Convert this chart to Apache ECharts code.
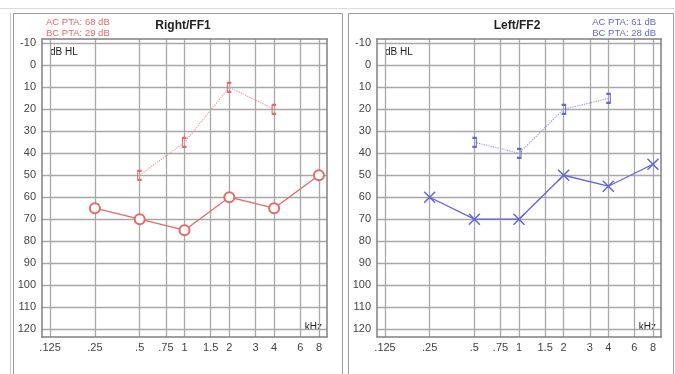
<!DOCTYPE html>
<html>
<head>
<meta charset="utf-8">
<script src="https://cdn.jsdelivr.net/npm/echarts@6/dist/echarts.min.js"></script>
<style>
  html, body { margin: 0; padding: 0; background: #fff; }
  #chart { width: 675px; height: 374px; }
</style>
</head>
<body>
<div id="chart"></div>
<script>
// audiogram data (kHz / dB HL)
const acFreqs = [0.25, 0.5, 1, 2, 4, 8];
const bcFreqs = [0.5, 1, 2, 4];
const rightAC = [65, 70, 75, 60, 65, 50];
const rightBC = [50, 35, 10, 20];
const leftAC = [60, 70, 70, 50, 55, 45];
const leftBC = [35, 40, 20, 15];
const tickFreqs = [0.125, 0.25, 0.5, 0.75, 1, 1.5, 2, 3, 4, 6, 8];
const tickLabels = ['.125', '.25', '.5', '.75', '1', '1.5', '2', '3', '4', '6', '8'];
const dbTicks = [-10, 0, 10, 20, 30, 40, 50, 60, 70, 80, 90, 100, 110, 120];

const RED = '#e36a6a';
const BLUE = '#6464da';
const FONT = '"Liberation Sans", Arial, sans-serif';

const toXY = (fs, vals) => fs.map((f, i) => [Math.log2(f), vals[i]]);
const xTickVals = tickFreqs.map(f => Math.log2(f));

function xAxisFor(idx) {
    return {
        gridIndex: idx,
        type: 'value',
        min: -3.18,
        max: 3.18,
        axisLine: { show: true, onZero: false, lineStyle: { color: '#808080', width: 1.5 } },
        axisTick: { show: false, customValues: xTickVals },
        axisLabel: {
            customValues: xTickVals,
            margin: 5,
            fontSize: 11,
            color: '#444',
            fontFamily: FONT,
            formatter: v => {
                const k = xTickVals.findIndex(t => Math.abs(t - v) < 1e-6);
                return k >= 0 ? tickLabels[k] : '';
            }
        },
        splitLine: { show: true, lineStyle: { color: '#a8a8a8', width: 1.3 } }
    };
}
function yAxisFor(idx) {
    return {
        gridIndex: idx,
        type: 'value',
        inverse: true,
        min: -12,
        max: 123.6,
        axisLine: { show: true, onZero: false, lineStyle: { color: '#808080', width: 1.5 } },
        axisTick: { show: false, customValues: dbTicks },
        axisLabel: { customValues: dbTicks, margin: 6, fontSize: 11, color: '#444', fontFamily: FONT },
        splitLine: { show: true, lineStyle: { color: '#a8a8a8', width: 1.3 } }
    };
}
// extra axes on the far side to close the box
function boxAxes(idx) {
    return [
        { gridIndex: idx, type: 'value', position: 'top', min: 0, max: 1,
          axisLine: { show: true, onZero: false, lineStyle: { color: '#808080', width: 1.5 } },
          axisTick: { show: false }, axisLabel: { show: false }, splitLine: { show: false } },
        { gridIndex: idx, type: 'value', position: 'right', min: 0, max: 1,
          axisLine: { show: true, onZero: false, lineStyle: { color: '#808080', width: 1.5 } },
          axisTick: { show: false }, axisLabel: { show: false }, splitLine: { show: false } }
    ];
}

const bracketL = 'path://M6,0L0,0L0,14L6,14';
const bracketR = 'path://M0,0L6,0L6,14L0,14';
const cross = 'path://M0,0L10,10M10,0L0,10';

const chart = echarts.init(document.getElementById('chart'));
const rb = boxAxes(0), lb = boxAxes(1);
const option = {
    backgroundColor: '#fff',
    animation: false,
    grid: [
        { left: 42, top: 39, width: 285, height: 298 },
        { left: 377, top: 39, width: 284, height: 298 }
    ],
    xAxis: [xAxisFor(0), xAxisFor(1), rb[0], lb[0]],
    yAxis: [yAxisFor(0), yAxisFor(1), rb[1], lb[1]],
    graphic: [
        { type: 'line', shape: { x1: 0, y1: 8.5, x2: 675, y2: 8.5 }, style: { stroke: '#dcdcdc', lineWidth: 1 } },
        { type: 'rect', shape: { x: 13.5, y: 13.5, width: 329, height: 400 }, style: { fill: 'none', stroke: '#9a9a9a', lineWidth: 1 } },
        { type: 'line', shape: { x1: 10.5, y1: 13, x2: 10.5, y2: 374 }, style: { stroke: '#c8c8c8', lineWidth: 1 } },
        { type: 'rect', shape: { x: 348.5, y: 13.5, width: 325, height: 400 }, style: { fill: 'none', stroke: '#9a9a9a', lineWidth: 1 } },
        { type: 'text', x: 183, y: 26, style: { text: 'Right/FF1', fill: '#222', font: 'bold 12px ' + FONT, align: 'center', verticalAlign: 'middle' } },
        { type: 'text', x: 517, y: 26, style: { text: 'Left/FF2', fill: '#222', font: 'bold 12px ' + FONT, align: 'center', verticalAlign: 'middle' } },
        { type: 'text', x: 46, y: 22, style: { text: 'AC PTA: 68 dB', fill: RED, font: '9.5px ' + FONT, verticalAlign: 'middle' } },
        { type: 'text', x: 46, y: 33, style: { text: 'BC PTA: 29 dB', fill: RED, font: '9.5px ' + FONT, verticalAlign: 'middle' } },
        { type: 'text', x: 656, y: 22, style: { text: 'AC PTA: 61 dB', fill: BLUE, font: '9.5px ' + FONT, align: 'right', verticalAlign: 'middle' } },
        { type: 'text', x: 656, y: 33, style: { text: 'BC PTA: 28 dB', fill: BLUE, font: '9.5px ' + FONT, align: 'right', verticalAlign: 'middle' } },
        { type: 'text', x: 50, y: 52, style: { text: 'dB HL', fill: '#222', font: '10px ' + FONT, verticalAlign: 'middle' } },
        { type: 'text', x: 385, y: 52, style: { text: 'dB HL', fill: '#222', font: '10px ' + FONT, verticalAlign: 'middle' } },
        { type: 'text', x: 322, y: 327, style: { text: 'kHz', fill: '#222', font: '10px ' + FONT, align: 'right', verticalAlign: 'middle' } },
        { type: 'text', x: 656, y: 327, style: { text: 'kHz', fill: '#222', font: '10px ' + FONT, align: 'right', verticalAlign: 'middle' } }
    ],
    series: [
        {
            name: 'Right AC', type: 'line', xAxisIndex: 0, yAxisIndex: 0,
            data: toXY(acFreqs, rightAC),
            symbol: 'emptyCircle', symbolSize: 10,
            lineStyle: { color: RED, width: 1.3 },
            itemStyle: { color: RED, borderColor: RED, borderWidth: 1.5 }
        },
        {
            name: 'Right BC', type: 'line', xAxisIndex: 0, yAxisIndex: 0,
            data: toXY(bcFreqs, rightBC),
            symbol: bracketL, symbolSize: [4, 9],
            lineStyle: { color: '#ef9a9a', width: 1.2, type: 'dotted' },
            itemStyle: { color: 'transparent', borderColor: RED, borderWidth: 1.5 }
        },
        {
            name: 'Left AC', type: 'line', xAxisIndex: 1, yAxisIndex: 1,
            data: toXY(acFreqs, leftAC),
            symbol: cross, symbolSize: 11,
            lineStyle: { color: BLUE, width: 1.3 },
            itemStyle: { color: 'transparent', borderColor: BLUE, borderWidth: 1.5 }
        },
        {
            name: 'Left BC', type: 'line', xAxisIndex: 1, yAxisIndex: 1,
            data: toXY(bcFreqs, leftBC),
            symbol: bracketR, symbolSize: [4, 9],
            lineStyle: { color: '#9a9ae8', width: 1.2, type: 'dotted' },
            itemStyle: { color: 'transparent', borderColor: BLUE, borderWidth: 1.5 }
        }
    ]
};
chart.setOption(option);
</script>
</body>
</html>
